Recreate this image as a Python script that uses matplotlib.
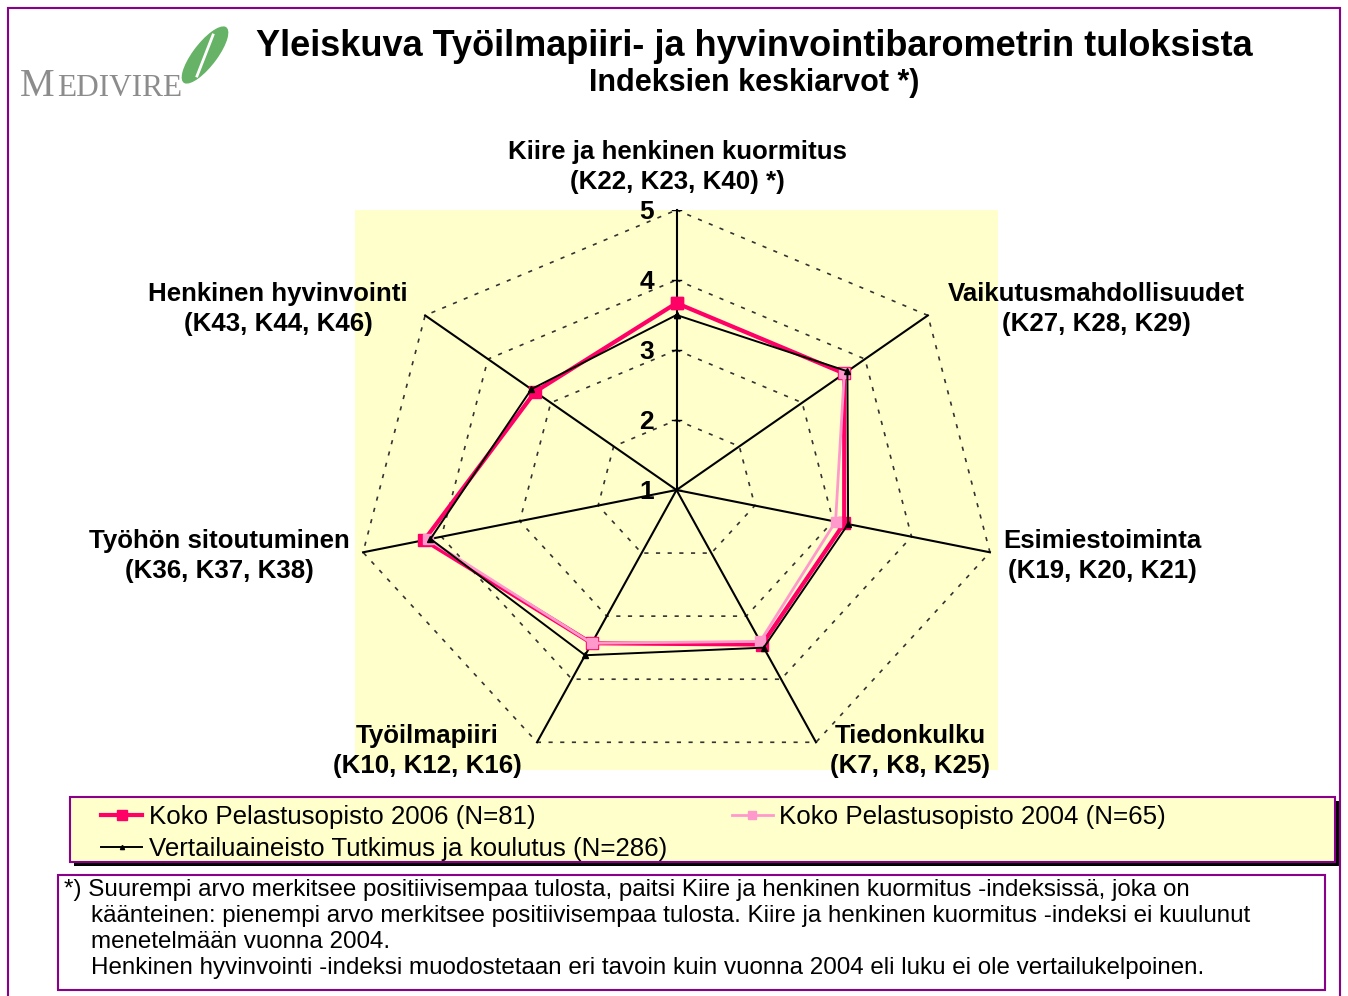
import numpy as np
import matplotlib
matplotlib.use('Agg')
import matplotlib.pyplot as plt
from matplotlib.patches import Rectangle, Ellipse
from matplotlib.lines import Line2D

plt.rcParams['font.family'] = ['Liberation Sans', 'DejaVu Sans']

# data
categories = ['Kiire ja henkinen kuormitus\n(K22, K23, K40) *)',
              'Vaikutusmahdollisuudet\n(K27, K28, K29)',
              'Esimiestoiminta\n(K19, K20, K21)',
              'Tiedonkulku\n(K7, K8, K25)',
              'Työilmapiiri\n(K10, K12, K16)',
              'Työhön sitoutuminen\n(K36, K37, K38)',
              'Henkinen hyvinvointi\n(K43, K44, K46)']
pelastus_2006 = [3.67, 3.67, 3.14, 3.45, 3.43, 4.22, 3.25]
pelastus_2004 = [np.nan, 3.67, 3.03, 3.40, 3.43, 4.17, np.nan]
vertailu = [3.50, 3.72, 3.19, 3.50, 3.62, 4.14, 3.31]
scale_ticks = [1, 2, 3, 4, 5]
legend_labels = ['Koko Pelastusopisto 2006 (N=81)',
                 'Koko Pelastusopisto 2004 (N=65)',
                 'Vertailuaineisto Tutkimus ja koulutus (N=286)']
footnote = ['*) Suurempi arvo merkitsee positiivisempaa tulosta, paitsi Kiire ja henkinen kuormitus -indeksissä, joka on',
            '    käänteinen: pienempi arvo merkitsee positiivisempaa tulosta. Kiire ja henkinen kuormitus -indeksi ei kuulunut',
            '    menetelmään vuonna 2004.',
            '    Henkinen hyvinvointi -indeksi muodostetaan eri tavoin kuin vuonna 2004 eli luku ei ole vertailukelpoinen.']

W, H = 1348, 996
fig = plt.figure(figsize=(W / 100, H / 100), dpi=100)
purple = '#8B008B'


def fx(x):
    return x / W


def fy(y):
    return 1 - y / H


n = len(categories)
theta = np.arange(n) * 2 * np.pi / n


def to_xy(vals, idx=None):
    vals = np.asarray(vals, dtype=float)
    r = vals - scale_ticks[0]
    t = theta if idx is None else theta[idx]
    return r * np.sin(t), r * np.cos(t)


# yellow plot area, 355..998 x 210..770 (stretched horizontally like the original)
ax = fig.add_axes([fx(355), fy(770), (998 - 355) / W, 560 / H])
ax.set_facecolor('#FFFFCC')
rmax = scale_ticks[-1] - scale_ticks[0]
ax.set_xlim(-rmax, rmax)
ax.set_ylim(-rmax, rmax)
for s in ax.spines.values():
    s.set_visible(False)
ax.set_xticks([])
ax.set_yticks([])

# dotted grid polygons
closed = np.r_[np.arange(n), 0]
for lv in scale_ticks[1:]:
    gx, gy = to_xy([lv] * n)
    ax.plot(gx[closed], gy[closed], color='#333333', lw=1.2,
            linestyle=(0, (2.5, 4.5)), clip_on=False, zorder=1)

# spokes
ox, oy = to_xy([scale_ticks[-1]] * n)
for i in range(n):
    ax.plot([0, ox[i]], [0, oy[i]], color='black', lw=1.5, zorder=2, clip_on=False)

# scale labels on top spoke
for lv in scale_ticks:
    tx, ty = to_xy([lv], [0])
    ax.text(tx[0] - 0.28, ty[0] - 0.03, str(lv), ha='right', va='center',
            fontsize=19, fontweight='bold', zorder=5)
    ax.plot([tx[0] - 0.05, tx[0] + 0.05], [ty[0], ty[0]], color='black', lw=1, zorder=2)

# series
x06, y06 = to_xy(pelastus_2006)
ax.plot(x06[closed], y06[closed], color='#FF0066', lw=3, marker='s',
        markersize=8, zorder=3, clip_on=False)
x04, y04 = to_xy(pelastus_2004)
ax.plot(x04, y04, color='#FF99CC', lw=2, marker='s', markersize=7,
        markeredgecolor='#FF99CC', zorder=4)
xv, yv = to_xy(vertailu)
ax.plot(xv[closed], yv[closed], color='black', lw=1.4, marker='^',
        markersize=4, zorder=5)

# category labels
label_pos = [(677, 167, 'center'), (1096, 309, 'center'), (1003, 556, 'left'),
             (910, 751, 'center'), (427, 751, 'center'), (350, 556, 'right'),
             (278, 309, 'center')]
for lab, (lx, ly, ha) in zip(categories, label_pos):
    fig.text(fx(lx), fy(ly), lab, ha=ha, va='center', fontsize=18.6,
             fontweight='bold', multialignment='center', linespacing=1.28)

# titles
fig.text(fx(754), fy(46), 'Yleiskuva Työilmapiiri- ja hyvinvointibarometrin tuloksista',
         ha='center', va='center', fontsize=26, fontweight='bold')
fig.text(fx(754), fy(83), 'Indeksien keskiarvot *)', ha='center', va='center',
         fontsize=22, fontweight='bold')

# logo
fig.text(fx(20), fy(96), 'M', fontsize=28, family='Liberation Serif',
         color='#8C8C8C', ha='left', va='baseline')
fig.text(fx(57), fy(96), 'EDIVIRE', fontsize=22.5, family='Liberation Serif',
         color='#8C8C8C', ha='left', va='baseline')
fig.patches.append(Ellipse((fx(205), fy(55)), 26 / W, 64 / H, angle=-28,
                           transform=fig.transFigure, facecolor='#66B266',
                           edgecolor='none'))
fig.lines.append(Line2D([fx(197), fx(213)], [fy(76), fy(35)], color='white', lw=2,
                        transform=fig.transFigure))

# outer frame
fig.patches.append(Rectangle((fx(8), fy(1010)), (1340 - 8) / W, (1010 - 8) / H,
                             transform=fig.transFigure, fill=False,
                             edgecolor=purple, lw=1.5))

# legend box with shadow
fig.patches.append(Rectangle((fx(74), fy(866)), (1339 - 74) / W, 65 / H,
                             transform=fig.transFigure, facecolor='black',
                             edgecolor='none', zorder=0))
fig.patches.append(Rectangle((fx(70), fy(862)), (1335 - 70) / W, 65 / H,
                             transform=fig.transFigure, facecolor='#FFFFCC',
                             edgecolor=purple, lw=1.5, zorder=1))
h06 = Line2D([], [], color='#FF0066', lw=3, marker='s', markersize=7)
h04 = Line2D([], [], color='#FF99CC', lw=2, marker='s', markersize=6)
hv = Line2D([], [], color='black', lw=1.4, marker='^', markersize=3)
fig.legend([h06, hv, h04], [legend_labels[0], legend_labels[2], legend_labels[1]],
           ncol=2, loc='upper left', bbox_to_anchor=(fx(88), fy(792)),
           frameon=False, fontsize=18.6, handlelength=1.6, handletextpad=0.25,
           columnspacing=2.5, labelspacing=0.3, borderpad=0)

# footnote box
fig.patches.append(Rectangle((fx(58), fy(990)), (1325 - 58) / W, (990 - 875) / H,
                             transform=fig.transFigure, facecolor='white',
                             edgecolor=purple, lw=1.5))
for i, line in enumerate(footnote):
    fig.text(fx(64), fy(890 + i * 26), line, ha='left', va='center', fontsize=17.4)

fig.savefig('out.png', dpi=100)
